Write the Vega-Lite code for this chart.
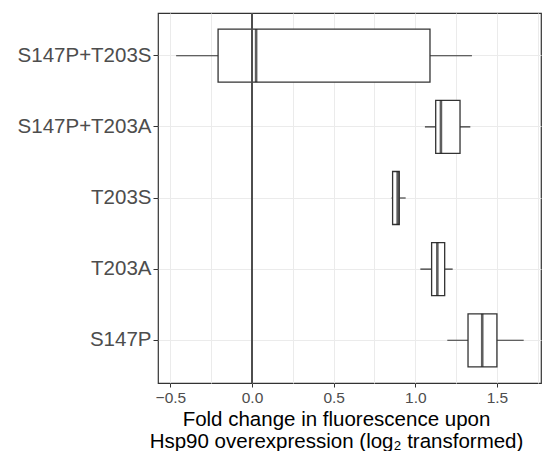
{
  "$schema": "https://vega.github.io/schema/vega-lite/v6.json",
  "width": 383,
  "height": 370,
  "autosize": "none",
  "padding": {"left": 158, "top": 13, "right": 1, "bottom": 68},
  "background": "white",
  "config": {
    "font": "Liberation Sans",
    "view": {"stroke": "#333333", "strokeWidth": 1.2}
  },
  "data": {
    "values": [
      {"variant": "S147P+T203S", "lower": -0.465, "q1": -0.208, "median": 0.025, "q3": 1.09, "upper": 1.347},
      {"variant": "S147P+T203A", "lower": 1.059, "q1": 1.125, "median": 1.157, "q3": 1.274, "upper": 1.337},
      {"variant": "T203S", "lower": 0.855, "q1": 0.861, "median": 0.892, "q3": 0.902, "upper": 0.941},
      {"variant": "T203A", "lower": 1.031, "q1": 1.1, "median": 1.135, "q3": 1.18, "upper": 1.229},
      {"variant": "S147P", "lower": 1.196, "q1": 1.323, "median": 1.41, "q3": 1.5, "upper": 1.664}
    ]
  },
  "encoding": {
    "y": {
      "field": "variant",
      "type": "nominal",
      "sort": ["S147P+T203S", "S147P+T203A", "T203S", "T203A", "S147P"],
      "scale": {"paddingInner": 0, "paddingOuter": 0.1},
      "axis": {
        "title": null,
        "bandPosition": 0.5,
        "domain": false,
        "grid": true,
        "gridColor": "#EBEBEB",
        "gridWidth": 1,
        "ticks": true,
        "tickColor": "#333333",
        "tickSize": 5,
        "labelPadding": 2,
        "labelFontSize": 20.5,
        "labelColor": "#4D4D4D"
      }
    }
  },
  "layer": [
    {
      "mark": {"type": "rule", "color": "#333333", "strokeWidth": 1.1},
      "encoding": {
        "x": {
          "field": "lower",
          "type": "quantitative",
          "scale": {"domain": [-0.576, 1.77], "nice": false, "zero": false},
          "axis": {
            "values": [-0.5, -0.25, 0, 0.25, 0.5, 0.75, 1, 1.25, 1.5, 1.75],
            "labelExpr": "abs(round(datum.value * 4)) % 2 == 1 ? '' : (datum.value < 0 ? '\u2212' + format(-datum.value, '.1f') : format(datum.value, '.1f'))",
            "domain": false,
            "grid": true,
            "gridColor": "#EBEBEB",
            "gridWidth": 1,
            "tickColor": "#333333",
            "tickSize": 4,
            "tickOpacity": {"condition": {"test": "abs(round(datum.value * 4)) % 2 == 1", "value": 0}, "value": 1},
            "labelPadding": 3,
            "labelFontSize": 15.5,
            "labelColor": "#4D4D4D",
            "title": ["Fold change in fluorescence upon", "Hsp90 overexpression (log\u2082 transformed)"],
            "titleFontSize": 20.5,
            "titleFontWeight": "normal",
            "titleColor": "#000000",
            "titleLineHeight": 22,
            "titleX": 178,
            "titleY": 42,
            "titleAlign": "center",
            "titleBaseline": "alphabetic"
          }
        },
        "x2": {"field": "upper"}
      }
    },
    {
      "mark": {"type": "bar", "fill": "white", "stroke": "#333333", "strokeWidth": 1.3, "size": 53},
      "encoding": {
        "x": {"field": "q1", "type": "quantitative"},
        "x2": {"field": "q3"}
      }
    },
    {
      "mark": {"type": "tick", "color": "#1a1a1a", "size": 53, "thickness": 2.6, "orient": "vertical"},
      "encoding": {
        "x": {"field": "median", "type": "quantitative"}
      }
    },
    {
      "mark": {"type": "rule", "color": "#4D4D4D", "strokeWidth": 1.2},
      "encoding": {
        "x": {"datum": 0, "type": "quantitative"},
        "y": null
      }
    }
  ]
}
